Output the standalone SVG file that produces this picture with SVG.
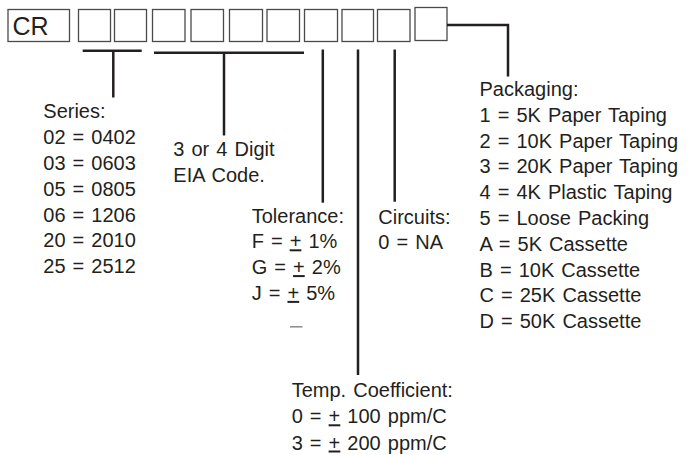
<svg xmlns="http://www.w3.org/2000/svg" width="692" height="455" viewBox="0 0 692 455">
<style>
.box{fill:#fff;stroke:#4a4a4a;stroke-width:1.3}
.ln{stroke:#231f20;stroke-width:2.5;fill:none}
text{font-family:"Liberation Sans",Arial,sans-serif;font-size:20px;fill:#231f20;word-spacing:1.5px}
.u{text-decoration:underline}
</style>
<rect width="692" height="455" fill="#fff"/>
<g id="code">
<g id="box-cr"><rect class="box" x="8" y="9.5" width="61.5" height="32"/><text x="12.5" y="35" style="font-size:25px;word-spacing:0">CR</text></g>
<g id="box-1"><rect class="box" x="78.5" y="9.5" width="32" height="32"/></g>
<g id="box-2"><rect class="box" x="114.5" y="9.5" width="32" height="32"/></g>
<g id="box-3"><rect class="box" x="152.5" y="9.5" width="32.5" height="32"/></g>
<g id="box-4"><rect class="box" x="191" y="9.5" width="32.5" height="32"/></g>
<g id="box-5"><rect class="box" x="229.5" y="9.5" width="33" height="32"/></g>
<g id="box-6"><rect class="box" x="267" y="9.5" width="32.5" height="32"/></g>
<g id="box-7"><rect class="box" x="304.5" y="9.5" width="33" height="32"/></g>
<g id="box-8"><rect class="box" x="342" y="9.5" width="31.5" height="32"/></g>
<g id="box-9"><rect class="box" x="377.5" y="9.5" width="32.5" height="32"/></g>
<g id="box-10"><rect class="box" x="415" y="7.5" width="32" height="33"/></g>
</g>
<g id="connectors">
<path class="ln" d="M82.7 50.7H141.7M113.3 50.7V97.5"/>
<path class="ln" d="M154 52.8H304M224 52.8V135.5"/>
<path class="ln" d="M322.8 49.5V202.7"/>
<path class="ln" d="M358 49.5V375"/>
<path class="ln" d="M394.7 49.5V201.7"/>
<path class="ln" d="M447 25H508V76.5"/>
</g>
<g id="series">
<text x="43.3" y="118.3">Series:</text>
<text x="43.3" y="144.1">02 = 0402</text>
<text x="43.3" y="169.9">03 = 0603</text>
<text x="43.3" y="195.7">05 = 0805</text>
<text x="43.3" y="221.5">06 = 1206</text>
<text x="43.3" y="247.3">20 = 2010</text>
<text x="43.3" y="273.1">25 = 2512</text>
</g>
<g id="eia">
<text x="173.3" y="156">3 or 4 Digit</text>
<text x="173.3" y="181.7">EIA Code.</text>
</g>
<g id="tolerance">
<text x="251.7" y="222.5">Tolerance:</text>
<text x="251.7" y="248.3">F = <tspan class="u">+</tspan> 1%</text>
<text x="251.7" y="274.1">G = <tspan class="u">+</tspan> 2%</text>
<text x="251.7" y="299.9">J = <tspan class="u">+</tspan> 5%</text>
<line x1="290" y1="326.8" x2="302.5" y2="326.8" stroke="#8a8a8a" stroke-width="1.5"/>
</g>
<g id="circuits">
<text x="378.3" y="223.5">Circuits:</text>
<text x="378.3" y="249.3">0 = NA</text>
</g>
<g id="tempco">
<text x="291.7" y="397">Temp. Coefficient:</text>
<text x="291.7" y="423.3">0 = <tspan class="u">+</tspan> 100 ppm/C</text>
<text x="291.7" y="449.5">3 = <tspan class="u">+</tspan> 200 ppm/C</text>
</g>
<g id="packaging">
<text x="479.5" y="96">Packaging:</text>
<text x="479.5" y="121.8">1 = 5K Paper Taping</text>
<text x="479.5" y="147.6">2 = 10K Paper Taping</text>
<text x="479.5" y="173.4">3 = 20K Paper Taping</text>
<text x="479.5" y="199.2">4 = 4K Plastic Taping</text>
<text x="479.5" y="225">5 = Loose Packing</text>
<text x="479.5" y="250.8">A = 5K Cassette</text>
<text x="479.5" y="276.6">B = 10K Cassette</text>
<text x="479.5" y="302.4">C = 25K Cassette</text>
<text x="479.5" y="328.2">D = 50K Cassette</text>
</g>
</svg>
